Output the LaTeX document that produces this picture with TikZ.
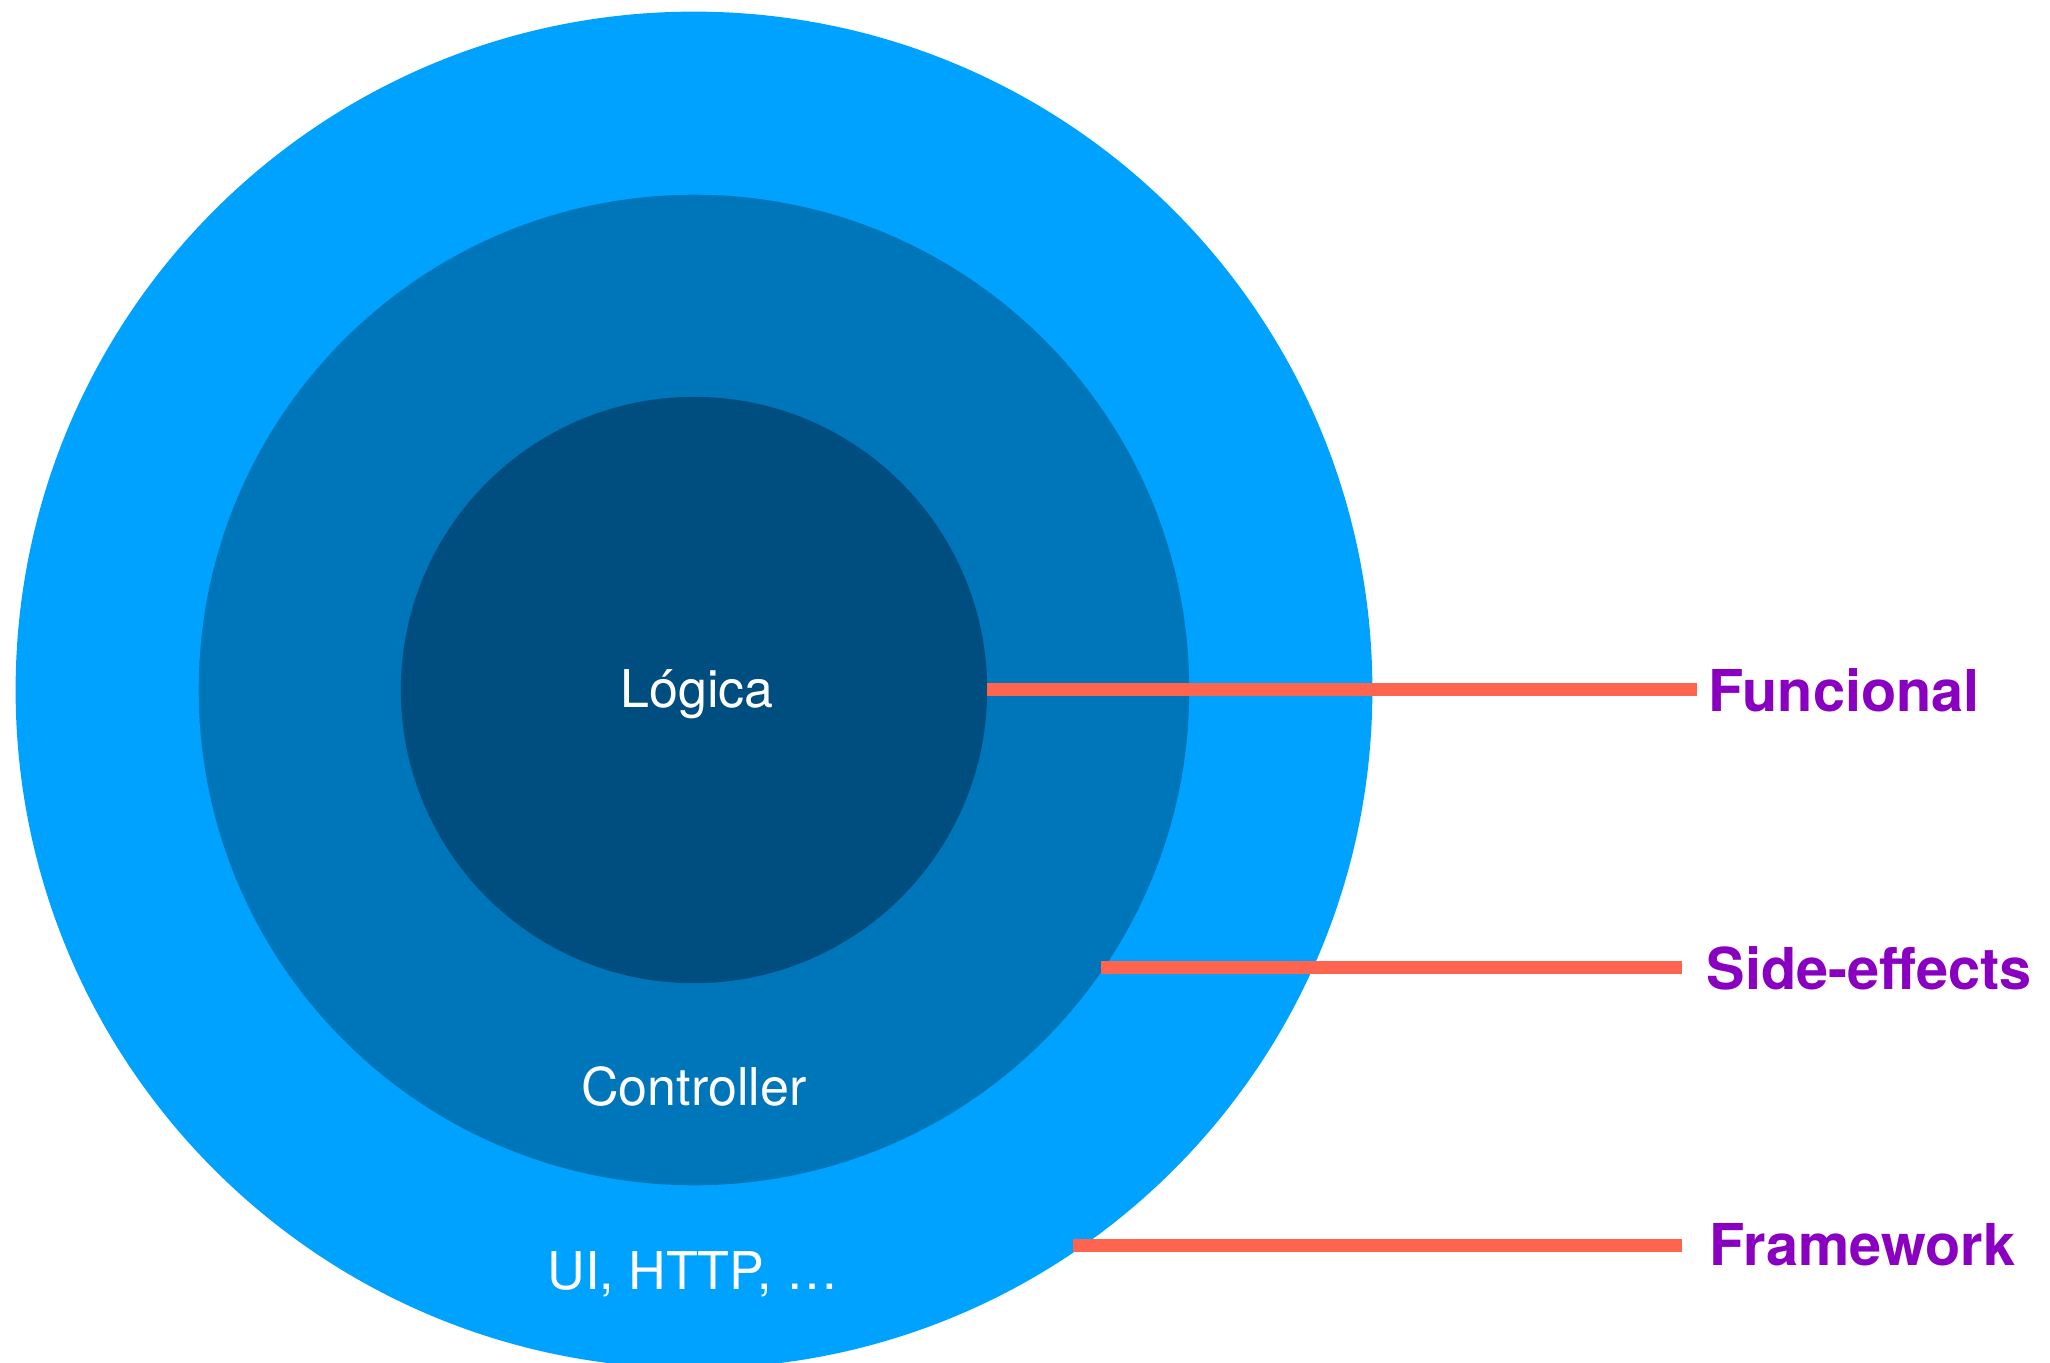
\documentclass[tikz,border=0pt]{standalone}
\usepackage{fontspec}
\setmainfont{TeX Gyre Heros}
\definecolor{outerblue}{HTML}{00A2FF}
\definecolor{midblue}{HTML}{0076BA}
\definecolor{innerblue}{HTML}{004D80}
\definecolor{barred}{HTML}{FF644E}
\definecolor{tagpurple}{HTML}{8A00C0}
\tikzset{
  ring/.style={circle,inner sep=0pt,outer sep=0pt},
  inlabel/.style={anchor=base,text=white,inner sep=0pt,font=\fontsize{14.8}{17}\selectfont},
  tag/.style={anchor=base west,inner sep=0pt,text=tagpurple,font=\fontsize{16.4}{19}\selectfont\bfseries},
  bar/.style={barred,line width=0.13cm}
}
\begin{document}
\begin{tikzpicture}[x=0.01cm,y=-0.01cm]
\useasboundingbox (0,0) rectangle (2050,1362);
\clip (0,0) rectangle (2050,1362);
\node[ring,fill=outerblue,minimum size=13.56cm] (outer) at (694,690) {};
\node[ring,fill=midblue,minimum size=9.9cm] (mid) at (694,690) {};
\node[ring,fill=innerblue,minimum size=5.86cm] (inner) at (694,690) {};
\node[inlabel] (l1) at (697,707) {Lógica};
\node[inlabel] (l2) at (694,1105) {Controller};
\node[inlabel] (l3) at (693,1289) {UI, HTTP, …};
\node[tag] (t1) at (1708,711) {Funcional};
\node[tag] (t2) at (1706,989) {Side-effects};
\node[tag] (t3) at (1709,1265) {Framework};
\coordinate (e1) at (987,689);
\coordinate (e2) at (1101,967);
\coordinate (e3) at (1073,1245);
\draw[bar,shorten >=0.11cm] (e1) -- (e1 -| t1.west);
\draw[bar,shorten >=0.24cm] (e2) -- (e2 -| t2.west);
\draw[bar,shorten >=0.27cm] (e3) -- (e3 -| t3.west);
\end{tikzpicture}
\end{document}
